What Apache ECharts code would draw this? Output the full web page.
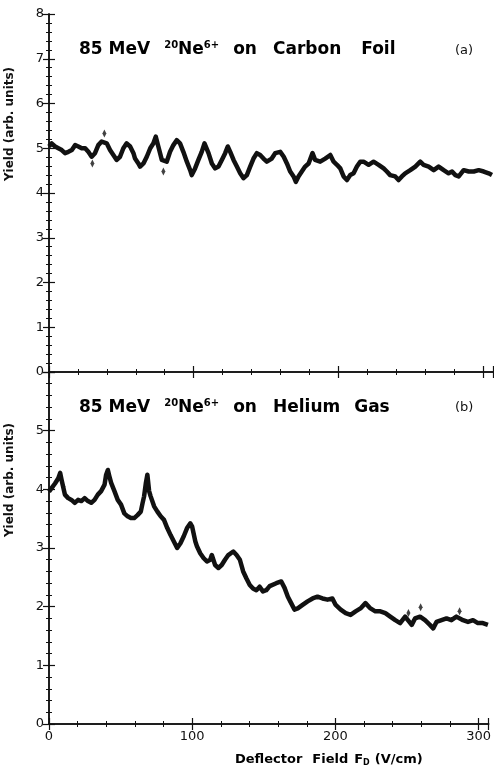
<!DOCTYPE html>
<html>
<head>
<meta charset="utf-8">
<script src="https://cdn.jsdelivr.net/npm/echarts@6/dist/echarts.min.js"></script>
<style>
  html, body { margin: 0; padding: 0; background: #fff; }
  #chart { width: 494px; height: 767px; }
</style>
</head>
<body>
<div id="chart"></div>
<script>
// panel (a): carbon foil
const foilField = [0, 1.8, 4.2, 6.5, 8.8, 11.1, 13.4, 15.8, 18.1, 20.3, 22.6, 25, 27.2, 29.5, 31.8, 34.1, 36.4, 39.9, 42.2, 44.5, 46.8, 49.1, 51.4, 53.7, 56.1, 58.4, 59.5, 61.8, 63, 65.3, 67.6, 70, 72.2, 73.8, 75.6, 78, 81.4, 83.7, 86, 88.3, 90.6, 92.9, 95.3, 97.6, 98.7, 101, 103.3, 105.6, 107.5, 110.3, 112.6, 114.9, 117.2, 119.5, 121.8, 123.6, 125.3, 127.6, 129.9, 132.2, 134.5, 136.8, 139.1, 141.4, 143.7, 146, 148.3, 150.6, 151.8, 154, 156.4, 159.9, 162.3, 164.5, 166.8, 169.1, 170.7, 172.5, 174.8, 177.1, 179.5, 182.2, 184, 187.5, 191, 194.5, 196.8, 199.1, 201.4, 203.7, 206, 208.3, 210.6, 212.9, 215.2, 217.5, 221, 224.4, 227.9, 231.4, 233.6, 235.9, 239.4, 241.7, 244, 246.3, 249.8, 253.3, 256.7, 259, 262.5, 266, 269.4, 272.9, 276.3, 278.7, 281, 283.3, 286.7, 290.2, 293.7, 297.1, 300.6, 304, 306.3];
const foilYield = [5.04, 5.11, 5.04, 5.00, 4.96, 4.89, 4.92, 4.96, 5.07, 5.04, 5.00, 5.00, 4.92, 4.81, 4.89, 5.07, 5.15, 5.11, 4.96, 4.85, 4.74, 4.81, 5.00, 5.11, 5.04, 4.89, 4.77, 4.66, 4.59, 4.66, 4.81, 5.00, 5.11, 5.26, 5.04, 4.74, 4.70, 4.92, 5.07, 5.18, 5.11, 4.92, 4.70, 4.51, 4.40, 4.55, 4.74, 4.92, 5.11, 4.89, 4.66, 4.55, 4.59, 4.74, 4.89, 5.04, 4.92, 4.74, 4.59, 4.44, 4.33, 4.40, 4.59, 4.77, 4.89, 4.85, 4.77, 4.70, 4.66, 4.77, 4.89, 4.92, 4.81, 4.66, 4.48, 4.37, 4.25, 4.37, 4.48, 4.59, 4.66, 4.89, 4.74, 4.70, 4.77, 4.85, 4.70, 4.63, 4.55, 4.37, 4.29, 4.40, 4.44, 4.59, 4.70, 4.70, 4.63, 4.70, 4.63, 4.55, 4.48, 4.40, 4.37, 4.29, 4.37, 4.44, 4.51, 4.59, 4.70, 4.63, 4.59, 4.51, 4.59, 4.51, 4.44, 4.48, 4.40, 4.37, 4.51, 4.48, 4.48, 4.51, 4.48, 4.44, 4.40];
const foilStrayField = [30.0, 38.3, 79.1];
const foilStrayYield = [4.66, 5.33, 4.48];

// panel (b): helium gas
const gasField = [0, 1.8, 4.2, 6.5, 7.8, 8.8, 11.1, 13.4, 15.7, 18, 19.1, 20.3, 22.6, 24.9, 27.2, 29.5, 31.8, 34.1, 36.4, 38.8, 39.9, 41.1, 42.2, 43.4, 45.7, 48, 50.3, 52.6, 54.9, 57.2, 59.5, 61.8, 64.1, 65.3, 66.4, 67.6, 68.7, 69.9, 71, 73.4, 75.7, 78, 80.3, 82.6, 84.9, 87.2, 89.5, 91.8, 94.1, 96.4, 98.7, 99.9, 102.2, 103.3, 105.6, 107.9, 110.3, 112.6, 113.7, 116, 118.3, 120.6, 122.9, 125.2, 128.7, 131, 133.3, 135.6, 137.9, 140.2, 142.5, 144.8, 147.1, 149.4, 151.7, 154.1, 158.7, 162.2, 164.5, 166.8, 169.1, 171.4, 173.7, 177.1, 180.6, 184.1, 187.5, 191, 194.5, 197.9, 200.2, 203.7, 207.2, 210.6, 214.1, 217.5, 221, 224.5, 227.9, 231.4, 234.9, 238.3, 241.8, 245.2, 248.7, 253.3, 255.6, 259.1, 262.6, 266, 268.3, 270.6, 274.1, 277.6, 281, 284.5, 289.1, 292.6, 296.1, 299.5, 303, 306.5];
const gasYield = [3.96, 4.02, 4.10, 4.19, 4.28, 4.16, 3.91, 3.85, 3.82, 3.77, 3.74, 3.82, 3.80, 3.85, 3.80, 3.77, 3.82, 3.91, 3.97, 4.08, 4.25, 4.33, 4.22, 4.11, 3.97, 3.82, 3.74, 3.59, 3.54, 3.51, 3.51, 3.56, 3.62, 3.76, 3.88, 4.10, 4.25, 3.97, 3.88, 3.71, 3.62, 3.54, 3.48, 3.34, 3.22, 3.11, 3.00, 3.08, 3.20, 3.34, 3.42, 3.37, 3.11, 3.03, 2.91, 2.83, 2.77, 2.80, 2.88, 2.71, 2.66, 2.71, 2.80, 2.88, 2.94, 2.88, 2.80, 2.60, 2.48, 2.37, 2.31, 2.28, 2.34, 2.26, 2.28, 2.35, 2.40, 2.43, 2.32, 2.17, 2.06, 1.95, 1.97, 2.03, 2.09, 2.14, 2.17, 2.14, 2.12, 2.14, 2.03, 1.95, 1.89, 1.86, 1.92, 1.97, 2.06, 1.97, 1.92, 1.92, 1.89, 1.83, 1.77, 1.72, 1.83, 1.69, 1.80, 1.83, 1.77, 1.69, 1.63, 1.74, 1.77, 1.80, 1.77, 1.83, 1.77, 1.74, 1.77, 1.72, 1.72, 1.69];
const gasStrayField = [10.0, 251.0, 259.5, 286.7];
const gasStrayYield = [4.05, 1.89, 1.99, 1.92];

const xTicks = [0, 100, 200, 300];
const foilTicks = [0, 1, 2, 3, 4, 5, 6, 7, 8];
const gasTicks = [0, 1, 2, 3, 4, 5];

const FONT = 'DejaVu Sans';
const INK = '#111';

function pairs(xs, ys) {
  return xs.map((x, i) => [x, ys[i]]);
}

function xAxisFor(gridIndex, position, showLabels) {
  return {
    type: 'value', gridIndex, position, min: 0, max: 307, interval: 100,
    axisLine: { show: true, lineStyle: { color: INK, width: 1.5 } },
    axisTick: { show: true, inside: true, length: 6, lineStyle: { color: INK, width: 1.2 } },
    minorTick: { show: true, splitNumber: 5, length: 3, lineStyle: { color: INK, width: 1 } },
    splitLine: { show: false },
    axisLabel: {
      show: showLabels, color: INK, fontFamily: FONT, fontSize: 13, margin: 6,
      showMaxLabel: false,
      formatter: v => (xTicks.includes(v) ? String(v) : '')
    }
  };
}

function yAxisFor(gridIndex, position, max, ticks, showLabels) {
  return {
    type: 'value', gridIndex, position, min: 0, max, interval: 1,
    axisLine: { show: true, lineStyle: { color: INK, width: 1.5 } },
    axisTick: { show: true, inside: true, length: 6, lineStyle: { color: INK, width: 1.2 } },
    minorTick: { show: true, splitNumber: 5, length: 3, lineStyle: { color: INK, width: 1 } },
    splitLine: { show: false },
    axisLabel: {
      show: showLabels, color: INK, fontFamily: FONT, fontSize: 13, margin: 5,
      formatter: v => (ticks.includes(v) ? String(v) : '')
    }
  };
}

function trace(xIdx, yIdx, data) {
  return {
    type: 'line', xAxisIndex: xIdx, yAxisIndex: yIdx, data,
    symbol: 'none', smooth: false,
    lineStyle: { color: INK, width: 4.5, join: 'round' },
    silent: true, z: 3
  };
}

function strays(xIdx, yIdx, data) {
  return {
    type: 'scatter', xAxisIndex: xIdx, yAxisIndex: yIdx, data,
    symbol: 'diamond', symbolSize: [4, 8],
    itemStyle: { color: INK }, silent: true, z: 3
  };
}

// word gaps are widened with right padding: the original lettering is very wide
const base = { fontFamily: FONT, fontSize: 17, fontWeight: 'bold', color: INK };
const titleRich = {
  w: base,
  g14: Object.assign({}, base, { padding: [0, 14, 0, 0] }),
  g16: Object.assign({}, base, { padding: [0, 16, 0, 0] }),
  g20: Object.assign({}, base, { padding: [0, 20, 0, 0] }),
  sup: { fontFamily: FONT, fontSize: 10, fontWeight: 'bold', color: INK, padding: [0, 0, 10, 0] },
  supg: { fontFamily: FONT, fontSize: 10, fontWeight: 'bold', color: INK, padding: [0, 14, 10, 0] }
};

const xRich = {
  b: { fontFamily: FONT, fontSize: 13, fontWeight: 'bold', color: INK },
  b10: { fontFamily: FONT, fontSize: 13, fontWeight: 'bold', color: INK, padding: [0, 10, 0, 0] },
  b6: { fontFamily: FONT, fontSize: 13, fontWeight: 'bold', color: INK, padding: [0, 6, 0, 0] },
  sub: { fontFamily: FONT, fontSize: 8, fontWeight: 'bold', color: INK, padding: [6, 5, 0, 0] }
};

const chart = echarts.init(document.getElementById('chart'));
chart.setOption({
  animation: false,
  backgroundColor: '#fff',
  grid: [
    { left: 49, top: 14, width: 444, height: 358, show: false },
    { left: 49, top: 372, width: 444, height: 352, show: false }
  ],
  xAxis: [
    xAxisFor(0, 'bottom', false),
    xAxisFor(0, 'top', false),
    xAxisFor(1, 'bottom', true),
    xAxisFor(1, 'top', false)
  ],
  yAxis: [
    yAxisFor(0, 'left', 8, foilTicks, true),
    yAxisFor(0, 'right', 8, foilTicks, false),
    yAxisFor(1, 'left', 6, gasTicks, true),
    yAxisFor(1, 'right', 6, gasTicks, false)
  ],
  series: [
    trace(0, 0, pairs(foilField, foilYield)),
    strays(0, 0, pairs(foilStrayField, foilStrayYield)),
    trace(2, 2, pairs(gasField, gasYield)),
    strays(2, 2, pairs(gasStrayField, gasStrayYield))
  ],
  graphic: [
    {
      type: 'text', left: 79, top: 40,
      style: { text: '{g14|85 MeV}{sup|20}{w|Ne}{supg|6+}{g16|on}{g20|Carbon}{w|Foil}', rich: titleRich }
    },
    {
      type: 'text', left: 455, top: 44,
      style: { text: '(a)', fontFamily: FONT, fontSize: 13, fill: INK }
    },
    {
      type: 'text', left: 79, top: 398,
      style: { text: '{g14|85 MeV}{sup|20}{w|Ne}{supg|6+}{g16|on}{g14|Helium}{w|Gas}', rich: titleRich }
    },
    {
      type: 'text', left: 455, top: 401,
      style: { text: '(b)', fontFamily: FONT, fontSize: 13, fill: INK }
    },
    {
      type: 'text', x: 10, y: 124, rotation: Math.PI / 2,
      style: { text: 'Yield (arb. units)', fontFamily: FONT, fontSize: 12, fontWeight: 'bold', fill: INK, align: 'center', verticalAlign: 'middle' }
    },
    {
      type: 'text', x: 10, y: 480, rotation: Math.PI / 2,
      style: { text: 'Yield (arb. units)', fontFamily: FONT, fontSize: 12, fontWeight: 'bold', fill: INK, align: 'center', verticalAlign: 'middle' }
    },
    {
      type: 'text', left: 235, top: 753,
      style: { text: '{b10|Deflector}{b6|Field}{b|F}{sub|D}{b|(V/cm)}', rich: xRich }
    }
  ]
});
</script>
</body>
</html>
